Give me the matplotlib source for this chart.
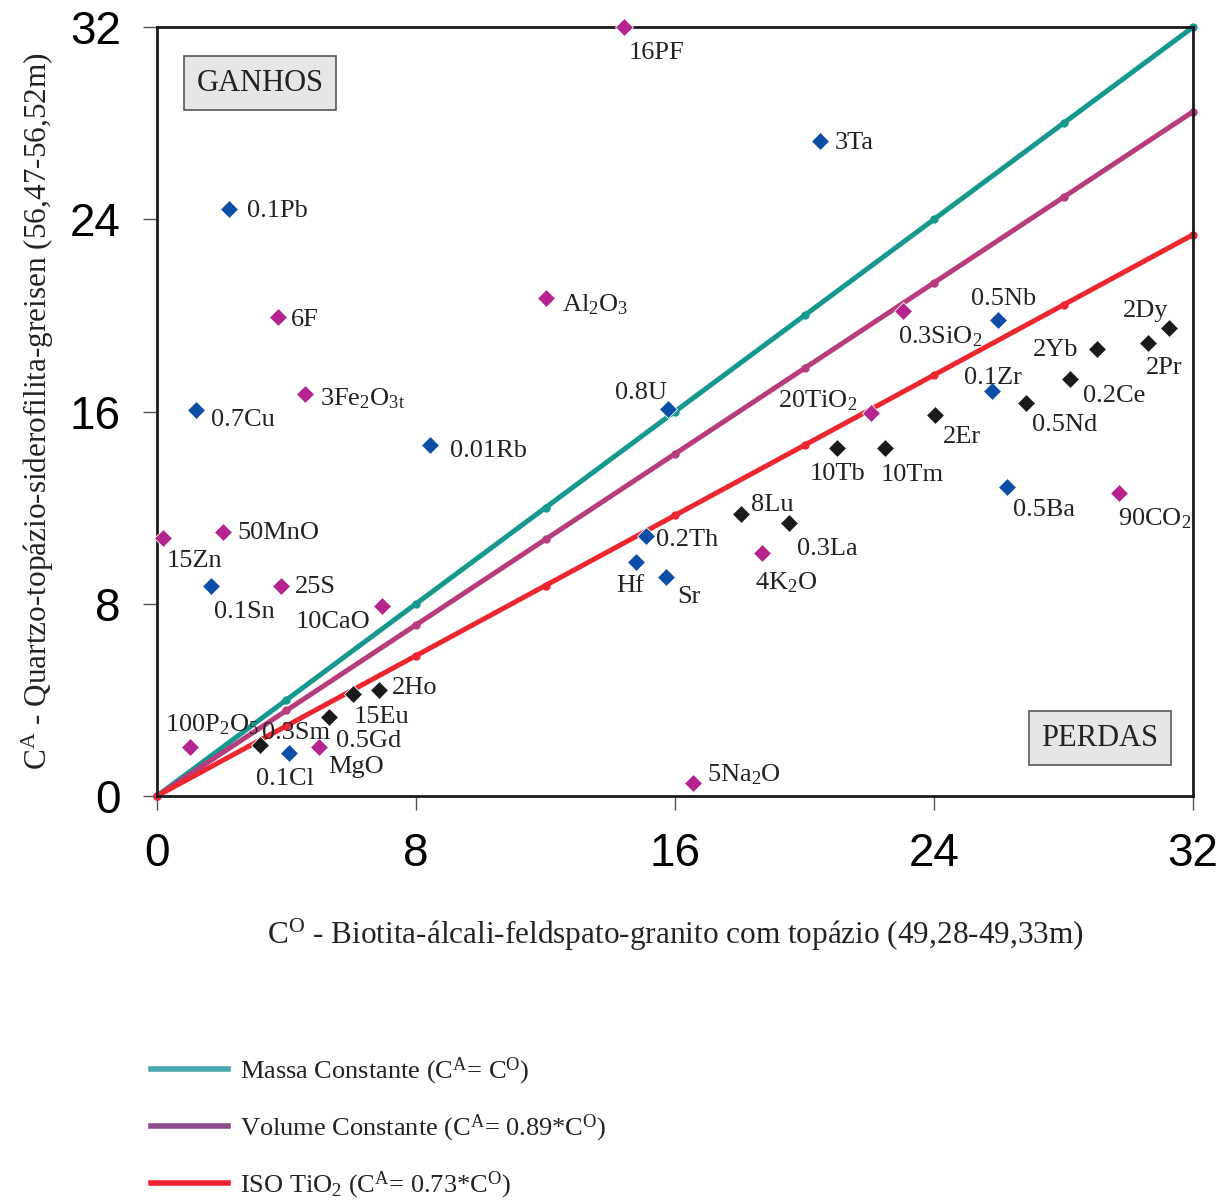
import matplotlib
matplotlib.use('Agg')
import matplotlib.pyplot as plt
from matplotlib.lines import Line2D

plt.rcParams['font.family'] = ['Liberation Serif', 'DejaVu Serif']
plt.rcParams['mathtext.fontset'] = 'custom'
plt.rcParams['mathtext.rm'] = 'Liberation Serif'

# --- data: C^O (x) vs C^A (y), scaled concentrations ---
blue_names = ['0.1Pb', '3Ta', '0.7Cu', '0.01Rb', '0.8U', '0.5Nb', '0.1Zr', '0.5Ba',
              '0.2Th', 'Hf', 'Sr', '0.1Sn', '0.1Cl']
blue_x = [2.22, 20.48, 1.20, 8.43, 15.78, 25.98, 25.79, 26.25, 15.10, 14.80, 15.72, 1.67, 4.08]
blue_y = [24.43, 27.26, 16.06, 14.61, 16.10, 19.81, 16.85, 12.86, 10.82, 9.74, 9.11, 8.74, 1.79]

mag_names = ['16PF', r'Al$\mathregular{_2}$O$\mathregular{_3}$', '6F',
             r'3Fe$\mathregular{_2}$O$\mathregular{_{3t}}$', '50MnO', '15Zn', '25S', '10CaO',
             r'100P$\mathregular{_2}$O$\mathregular{_5}$', 'MgO', r'5Na$\mathregular{_2}$O',
             r'4K$\mathregular{_2}$O', r'0.3SiO$\mathregular{_2}$', r'20TiO$\mathregular{_2}$',
             r'90CO$\mathregular{_2}$']
mag_x = [14.42, 12.02, 3.74, 4.57, 2.04, 0.19, 3.83, 6.95, 1.02, 5.00, 16.56, 18.69, 23.04, 22.05, 29.71]
mag_y = [32.00, 20.72, 19.93, 16.73, 10.99, 10.74, 8.74, 7.91, 2.04, 2.04, 0.54, 10.11, 20.18, 15.94, 12.61]

ree_names = ['2Ho', '15Eu', '0.5Gd', '0.3Sm', '8Lu', '0.3La', '10Tb', '10Tm', '2Er',
             '0.5Nd', '0.2Ce', '2Yb', '2Pr', '2Dy']
ree_x = [6.86, 6.05, 5.31, 3.18, 18.04, 19.52, 21.00, 22.49, 24.03, 26.84, 28.20, 29.03, 30.61, 31.26]
ree_y = [4.41, 4.24, 3.29, 2.12, 11.74, 11.36, 14.48, 14.48, 15.86, 16.35, 17.35, 18.60, 18.85, 19.48]

# isocon reference lines: C^A = k * C^O
iso_x = [0, 4, 8, 12, 16, 20, 24, 28, 32]
iso_slopes = [1.0, 0.89, 0.73]
iso_labels = [r'Massa Constante (C$\mathregular{^A}$= C$\mathregular{^O}$)',
              r'Volume Constante (C$\mathregular{^A}$= 0.89*C$\mathregular{^O}$)',
              r'ISO TiO$\mathregular{_2}$ (C$\mathregular{^A}$= 0.73*C$\mathregular{^O}$)']
iso_colors = ['#17988f', '#b63c7c', '#ee2630']
legend_colors = ['#4aa6ae', '#8a4a8c', '#ee2030']

# label placement: (dx, dy) in pixels from marker, horizontal alignment
label_pos = {
    '3Ta': (15, 0, 'left'), '0.1Pb': (18, 0, 'left'), '0.7Cu': (15, -7, 'left'),
    '0.01Rb': (20, -4, 'left'), '0.8U': (-1, 19, 'right'), '0.5Nb': (5, 23, 'center'),
    '0.1Zr': (1, 16, 'center'), '0.5Ba': (6, -21, 'left'), '0.2Th': (10, -1, 'left'),
    'Hf': (-6, -22, 'center'), 'Sr': (11, -17, 'left'), '0.1Sn': (3, -24, 'left'),
    '0.1Cl': (-4, -23, 'center'), '16PF': (5, -23, 'left'),
    mag_names[1]: (16, -4, 'left'), '6F': (13, 0, 'left'), mag_names[3]: (15, -2, 'left'),
    '50MnO': (14, 1, 'left'), '15Zn': (4, -21, 'left'), '25S': (14, 1, 'left'),
    '10CaO': (-12, -14, 'right'), mag_names[8]: (-25, 25, 'left'), 'MgO': (9, -18, 'left'),
    mag_names[10]: (14, 11, 'left'), mag_names[11]: (-7, -27, 'left'),
    mag_names[12]: (-5, -23, 'left'), mag_names[13]: (-14, 15, 'right'),
    mag_names[14]: (-1, -23, 'left'),
    '2Ho': (13, 5, 'left'), '15Eu': (1, -20, 'left'), '0.5Gd': (7, -22, 'left'),
    '0.3Sm': (2, 15, 'left'), '8Lu': (10, 11, 'left'), '0.3La': (8, -23, 'left'),
    '10Tb': (1, -23, 'center'), '10Tm': (27, -24, 'center'), '2Er': (8, -20, 'left'),
    '0.5Nd': (6, -19, 'left'), '0.2Ce': (13, -14, 'left'), '2Yb': (-19, 2, 'right'),
    '2Pr': (-2, -22, 'left'), '2Dy': (-1, 19, 'right'),
}

fig = plt.figure(figsize=(12.3, 12.01), dpi=100)
ax = fig.add_axes([0.1276, 0.3372, 0.8424, 0.6403])

for k, c in zip(iso_slopes, iso_colors):
    ax.plot(iso_x, [k * v for v in iso_x], color=c, lw=3.6, marker='o', ms=5,
            zorder=2, clip_on=False, solid_capstyle='butt')

groups = [(blue_names, blue_x, blue_y, '#0b4ea6'),
          (mag_names, mag_x, mag_y, '#b5238e'),
          (ree_names, ree_x, ree_y, '#1a1a1a')]
for names, xs, ys, col in groups:
    ax.plot(xs, ys, linestyle='none', marker='D', ms=9.5, color=col, mec='white',
            mew=0.6, zorder=4, clip_on=False)
    for n, x, y in zip(names, xs, ys):
        dx, dy, ha = label_pos[n]
        ax.annotate(n, (x, y), xytext=(dx, dy), textcoords='offset pixels',
                    ha=ha, va='center_baseline', fontsize=19, color='#222222', zorder=5)

ax.set_xlim(0, 32)
ax.set_ylim(0, 32)
ax.set_xticks([0, 8, 16, 24, 32])
ax.set_yticks([0, 8, 16, 24, 32])
ax.tick_params(direction='out', length=10, width=1, color='#555555', pad=16,
               labelsize=33)
for lab in ax.get_xticklabels() + ax.get_yticklabels():
    lab.set_fontfamily('Liberation Sans')
for sp in ax.spines.values():
    sp.set_linewidth(2)
    sp.set_color('#1a1a1a')

ax.set_xlabel(r'C$\mathregular{^O}$ - Biotita-álcali-feldspato-granito com topázio (49,28-49,33m)',
              fontsize=22.5, labelpad=29, color='#222222')
ax.set_ylabel(r'C$\mathregular{^A}$ - Quartzo-topázio-siderofilita-greisen (56,47-56,52m)',
              fontsize=22.5, labelpad=10, color='#222222')

box = dict(boxstyle='square,pad=0.42', facecolor='#e6e6e6', edgecolor='#555555', lw=1.2)
ax.text(0.0994, 0.927, 'GANHOS', transform=ax.transAxes, ha='center', va='center',
        fontsize=22, color='#222222', bbox=box)
ax.text(0.910, 0.0754, 'PERDAS', transform=ax.transAxes, ha='center', va='center',
        fontsize=22, color='#222222', bbox=box)

handles = [Line2D([], [], color=c, lw=4) for c in legend_colors]
fig.legend(handles, iso_labels, loc='center left', bbox_to_anchor=(0.123, 0.0605),
           frameon=False, fontsize=19, handlelength=2.9, handletextpad=0.45,
           labelspacing=0.98, borderpad=0, borderaxespad=0, labelcolor='#222222')

fig.savefig('out.png', dpi=100)
